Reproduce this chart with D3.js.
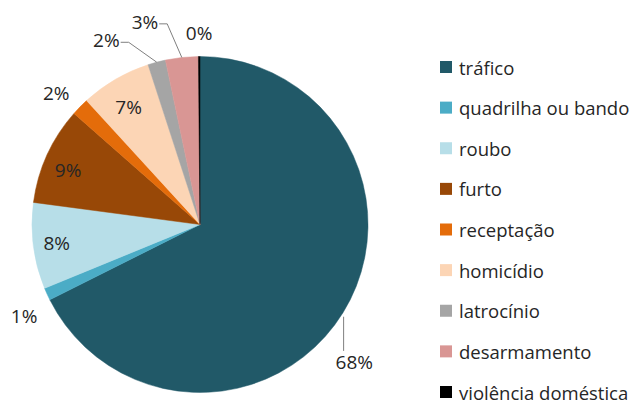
<!DOCTYPE html>
<html>
<head>
<meta charset="utf-8">
<script src="https://cdn.jsdelivr.net/npm/d3@7"></script>
<style>
  html, body { margin: 0; padding: 0; background: #fff; }
  svg text { font-family: "Open Sans", "Liberation Sans", sans-serif; fill: #262626; }
</style>
</head>
<body>
<div id="chart"></div>
<script>
// Pie of crime types (share %), clockwise from 12 o'clock

const categories = ['tráfico', 'quadrilha ou bando', 'roubo', 'furto', 'receptação',
                    'homicídio', 'latrocínio', 'desarmamento', 'violência doméstica'];
const values = [67.6, 1.2, 8.3, 9.4, 1.7, 6.8, 1.7, 3.15, 0.15];
const colors = ['#215968', '#4bacc6', '#b7dee8', '#984807', '#e46c0a',
                '#fcd5b5', '#a5a5a5', '#d99694', '#000000'];

// label placement per slice: [angle shift (deg), radius factor, leader?]
const labelLayout = [
    [10, 1.23, true],
    [-3, 1.18, false],
    [0, 0.86, false],
    [-2, 0.85, false],
    [-2, 1.16, false],
    [-1, 0.82, false],
    [-12, 1.23, true],
    [-9, 1.25, true],
    [0, 1.14, false],
];

const width = 643, height = 405;
const cx = 200, cy = 224.5, radius = 168;

const svg = d3.select('#chart').append('svg')
    .attr('width', width).attr('height', height);

const data = categories.map((c, i) => ({ name: c, value: values[i], color: colors[i], idx: i }));

const pie = d3.pie().sort(null).value(d => d.value);
const arcs = pie(data);
const arc = d3.arc().innerRadius(0).outerRadius(radius);

const g = svg.append('g').attr('transform', `translate(${cx},${cy})`);

g.selectAll('path.slice').data(arcs).enter().append('path')
    .attr('class', 'slice')
    .attr('d', arc)
    .attr('fill', d => d.data.color)
    .attr('stroke', d => d.data.color)
    .attr('stroke-width', 0.5);

const polar = (a, r) => [Math.sin(a) * r, -Math.cos(a) * r];

// labels + leader lines
arcs.forEach((d, i) => {
    const [shift, rf, leader] = labelLayout[i];
    const mid = (d.startAngle + d.endAngle) / 2;
    const la = mid + shift * Math.PI / 180;
    const [lx, ly] = polar(la, radius * rf);
    const txt = `${Math.round(d.data.value)}%`;

    const t = g.append('text')
        .attr('x', lx).attr('y', ly)
        .attr('text-anchor', 'middle')
        .attr('dominant-baseline', 'central')
        .attr('font-size', '19px')
        .text(txt);

    if (leader) {
        const bb = t.node().getBBox();
        const [ax, ay] = polar(mid, radius);
        let pts;
        if (ay > 0) {
            // label below: vertical line from slice edge to top-left of text
            const x0 = bb.x + 8;
            pts = [[x0, ay + 4], [x0, bb.y + 2]];
        } else {
            // label above-left: horizontal tail then diagonal to slice edge
            const yy = bb.y + bb.height / 2 + 2;
            pts = [[ax, ay], [bb.x + bb.width + 9, yy], [bb.x + bb.width + 1, yy]];
        }
        g.append('path')
            .attr('d', d3.line()(pts))
            .attr('fill', 'none')
            .attr('stroke', '#7f7f7f')
            .attr('stroke-width', 1);
    }
});

// legend
const ly = d3.scalePoint().domain(categories).range([67, 392]);
const legend = svg.append('g').attr('transform', 'translate(440,0)');
const items = legend.selectAll('g.item').data(data).enter().append('g')
    .attr('class', 'item')
    .attr('transform', d => `translate(0,${ly(d.name)})`);
items.append('rect')
    .attr('x', 0).attr('y', -6).attr('width', 12).attr('height', 12)
    .attr('fill', d => d.color);
items.append('text')
    .attr('x', 19).attr('y', 0)
    .attr('dominant-baseline', 'central')
    .attr('font-size', '18.5px')
    .text(d => d.name);
</script>
</body>
</html>
